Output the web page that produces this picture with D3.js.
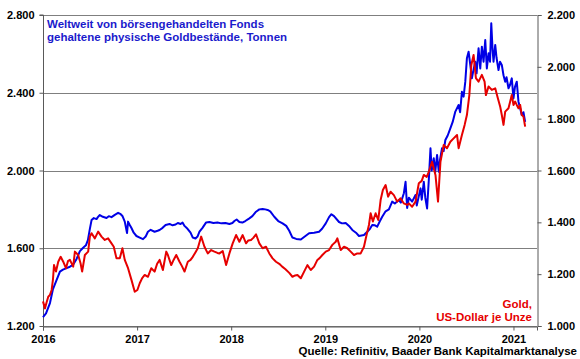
<!DOCTYPE html>
<html><head><meta charset="utf-8">
<script src="https://cdn.jsdelivr.net/npm/d3@7/dist/d3.min.js"></script>
<style>
html,body{margin:0;padding:0;background:#fff;}
svg{display:block;font-family:"Liberation Sans",Arial,sans-serif;font-weight:bold;}
</style></head><body>
<svg id="c" width="580" height="359"></svg>
<script>
// ---- data ----
const etfTime = [2016.000,2016.032,2016.074,2016.106,2016.145,2016.180,2016.212,2016.251,2016.286,2016.318,2016.357,2016.392,2016.424,2016.456,2016.477,2016.498,2016.516,2016.540,2016.569,2016.583,2016.604,2016.636,2016.675,2016.699,2016.728,2016.763,2016.798,2016.826,2016.844,2016.869,2016.893,2016.904,2016.922,2016.940,2016.964,2016.993,
2017.028,2017.063,2017.091,2017.115,2017.144,2017.186,2017.218,2017.239,2017.271,2017.303,2017.345,2017.377,2017.409,2017.433,2017.462,2017.483,2017.504,2017.536,2017.568,2017.592,2017.621,2017.642,2017.663,2017.695,2017.734,2017.769,2017.811,2017.854,2017.896,2017.939,2017.981,
2018.013,2018.034,2018.058,2018.087,2018.119,2018.150,2018.193,2018.225,2018.264,2018.299,2018.334,2018.362,2018.387,2018.415,2018.458,2018.500,2018.546,2018.585,2018.617,2018.651,2018.691,2018.740,2018.775,2018.828,2018.881,2018.934,2018.966,
2019.005,2019.040,2019.065,2019.093,2019.146,2019.178,2019.217,2019.252,2019.287,2019.326,2019.358,2019.411,2019.446,2019.475,2019.499,2019.528,2019.552,2019.581,2019.605,2019.641,2019.676,2019.711,2019.739,2019.782,2019.803,2019.835,2019.853,2019.870,2019.888,2019.923,2019.959,2019.972,
2020.012,2020.025,2020.047,2020.063,2020.082,2020.100,2020.118,2020.131,2020.153,2020.168,2020.188,2020.206,2020.221,2020.240,2020.258,2020.276,2020.301,2020.329,2020.354,2020.382,2020.417,2020.433,2020.452,2020.470,2020.488,2020.505,2020.523,2020.541,2020.558,2020.576,2020.594,2020.608,2020.629,2020.647,2020.664,2020.682,2020.700,2020.717,2020.735,2020.751,2020.764,2020.778,2020.788,2020.806,2020.820,2020.841,2020.857,2020.876,2020.894,2020.912,2020.926,2020.947,2020.963,2020.982,
2021.000,2021.016,2021.035,2021.053,2021.071,2021.088,2021.106,2021.124];
const etfTonnes = [1245,1265,1318,1390,1437,1480,1490,1498,1505,1514,1545,1585,1601,1615,1642,1700,1745,1755,1750,1760,1771,1762,1756,1765,1760,1772,1782,1775,1766,1737,1678,1737,1720,1704,1680,1663,
1655,1647,1660,1685,1695,1685,1690,1694,1705,1720,1725,1718,1722,1730,1725,1732,1715,1700,1680,1655,1650,1660,1685,1705,1733,1735,1730,1732,1728,1730,1725,
1730,1740,1748,1735,1732,1740,1754,1765,1788,1800,1802,1800,1797,1790,1762,1740,1728,1715,1690,1655,1648,1645,1658,1677,1680,1685,1700,
1728,1760,1775,1765,1735,1728,1730,1715,1694,1680,1663,1668,1685,1700,1720,1718,1711,1740,1762,1790,1800,1840,1830,1848,1835,1883,1942,1807,1860,1840,1874,1820,
1908,1850,1942,1860,1805,1950,2114,2000,2063,1990,2080,1994,2060,2114,2100,2157,2180,2217,2250,2303,2337,2300,2405,2380,2457,2577,2611,2543,2474,2520,2560,2500,2629,2525,2637,2560,2671,2525,2603,2560,2757,2620,2560,2646,2580,2517,2560,2543,2490,2457,2480,2423,2440,2474,
2371,2430,2457,2354,2320,2286,2300,2250];

const goldTime = [2016.000,2016.021,2016.037,2016.056,2016.074,2016.092,2016.106,2016.117,2016.138,2016.162,2016.188,2016.215,2016.244,2016.265,2016.286,2016.321,2016.339,2016.374,2016.399,2016.416,2016.445,2016.480,2016.498,2016.516,2016.551,2016.586,2016.622,2016.657,2016.692,2016.728,2016.752,2016.781,2016.816,2016.844,2016.869,2016.904,2016.940,2016.975,
2017.003,2017.028,2017.054,2017.081,2017.115,2017.151,2017.186,2017.213,2017.239,2017.274,2017.310,2017.327,2017.363,2017.388,2017.416,2017.451,2017.478,2017.504,2017.539,2017.568,2017.592,2017.621,2017.645,2017.681,2017.716,2017.751,2017.787,2017.822,2017.854,2017.875,2017.910,2017.946,2017.981,
2018.016,2018.052,2018.087,2018.122,2018.158,2018.182,2018.211,2018.235,2018.264,2018.299,2018.334,2018.370,2018.405,2018.440,2018.476,2018.511,2018.542,2018.574,2018.617,2018.651,2018.680,2018.704,2018.740,2018.775,2018.810,2018.846,2018.881,2018.916,2018.940,2018.969,
2019.005,2019.040,2019.075,2019.111,2019.128,2019.164,2019.199,2019.234,2019.270,2019.305,2019.340,2019.376,2019.411,2019.435,2019.464,2019.482,2019.506,2019.535,2019.563,2019.588,2019.612,2019.641,2019.668,2019.694,2019.729,2019.764,2019.800,2019.835,2019.870,2019.888,2019.923,2019.959,2019.994,
2020.025,2020.047,2020.078,2020.100,2020.135,2020.171,2020.198,2020.224,2020.258,2020.293,2020.329,2020.364,2020.400,2020.417,2020.452,2020.481,2020.505,2020.531,2020.552,2020.576,2020.601,2020.629,2020.664,2020.693,2020.707,2020.735,2020.770,2020.806,2020.834,2020.859,2020.876,2020.894,2020.912,2020.947,2020.965,2020.982,
2021.000,2021.018,2021.035,2021.053,2021.071,2021.088,2021.106,2021.124];
const goldPrice = [1095,1068,1090,1113,1120,1139,1180,1235,1210,1248,1267,1248,1223,1250,1255,1229,1287,1274,1242,1210,1274,1287,1345,1358,1338,1364,1345,1332,1338,1319,1306,1261,1261,1300,1255,1223,1178,1132,
1139,1165,1185,1197,1190,1223,1210,1240,1255,1216,1287,1274,1235,1255,1274,1248,1230,1210,1248,1255,1267,1285,1300,1345,1306,1280,1293,1287,1282,1280,1289,1235,1280,
1319,1351,1325,1351,1319,1330,1332,1340,1354,1319,1300,1306,1280,1261,1248,1240,1229,1220,1205,1190,1195,1197,1184,1210,1235,1216,1229,1255,1262,1274,
1287,1293,1313,1325,1338,1293,1306,1300,1287,1274,1280,1280,1306,1345,1390,1435,1403,1435,1409,1486,1525,1544,1499,1518,1505,1480,1493,1473,1467,1473,1460,1480,1551,
1560,1583,1575,1595,1634,1583,1480,1634,1698,1686,1711,1724,1737,1686,1737,1776,1814,1891,2007,2046,1956,1943,1969,1943,1891,1924,1911,1917,1879,1846,1814,1776,1827,1840,1866,1891,
1853,1866,1853,1840,1853,1814,1808,1769];

const leftTicks = [1200,1600,2000,2400,2800];
const rightTicks = [1000,1200,1400,1600,1800,2000,2200];
const yearTicks = [2016,2017,2018,2019,2020,2021];
const titleLines = ["Weltweit von börsengehandelten Fonds","gehaltene physische Goldbestände, Tonnen"];
const goldLabel = ["Gold,","US-Dollar je Unze"];
const sourceText = "Quelle: Refinitiv, Baader Bank Kapitalmarktanalyse";

// ---- layout ----
const W = 580, H = 359;
const m = {left:43, right:43, top:15, bottom:33};
const svg = d3.select("#c");
const x = d3.scaleLinear().domain([2016, 2021.25]).range([m.left, W - m.right]);
const yL = d3.scaleLinear().domain([1200, 2800]).range([H - m.bottom, m.top]);
const yR = d3.scaleLinear().domain([1000, 2200]).range([H - m.bottom, m.top]);
const fmt = v => d3.format(",.0f")(v).replace(/,/g, ".") ;
const fmt3 = v => (v/1000).toFixed(3);

// gridlines
svg.append("g").selectAll("line").data(leftTicks).join("line")
  .attr("x1", m.left).attr("x2", W - m.right)
  .attr("y1", d => Math.round(yL(d)) + 0.5).attr("y2", d => Math.round(yL(d)) + 0.5)
  .attr("stroke", "#7f7f7f").attr("stroke-width", 1);

// axes
const axL = d3.axisLeft(yL).tickValues(leftTicks).tickFormat(fmt3).tickSize(4).tickPadding(5);
const axR = d3.axisRight(yR).tickValues(rightTicks).tickFormat(fmt3).tickSize(4).tickPadding(6);
const axB = d3.axisBottom(x).tickValues(yearTicks).tickFormat(d3.format("d")).tickSize(4).tickPadding(5);

function styleAxis(g){
  g.select(".domain").attr("stroke", "#595959");
  g.selectAll(".tick line").attr("stroke", "#595959");
  g.selectAll("text").attr("fill", "#000").style("font-size", "11px").style("font-weight", "bold")
   .style("font-family", '"Liberation Sans", Arial, sans-serif');
}
svg.append("g").attr("transform", `translate(${m.left + 0.5},0)`).call(axL).call(styleAxis)
  .call(g => g.select(".domain").attr("d", `M-4,${yL(2800)}H0V${yL(1200)}`));
svg.append("g").attr("transform", `translate(${W - m.right + 0.5},0)`).call(axR).call(styleAxis);
svg.append("g").attr("transform", `translate(0,${H - m.bottom + 0.5})`).call(axB).call(styleAxis);

// lines
const lineL = d3.line().x((d,i) => x(etfTime[i])).y(d => yL(d));
const lineR = d3.line().x((d,i) => x(goldTime[i])).y(d => yR(d));
svg.append("path").datum(etfTonnes).attr("d", lineL)
  .attr("fill", "none").attr("stroke", "#0000e6").attr("stroke-width", 2).attr("stroke-linejoin", "round");
svg.append("path").datum(goldPrice).attr("d", lineR)
  .attr("fill", "none").attr("stroke", "#e60000").attr("stroke-width", 2).attr("stroke-linejoin", "round");

// texts
svg.append("g").selectAll("text").data(titleLines).join("text")
  .attr("x", 47).attr("y", (d,i) => 28 + i*13)
  .attr("fill", "#1a1acc").style("font-size", "11.5px").text(d => d);
svg.append("g").selectAll("text").data(goldLabel).join("text")
  .attr("x", 532).attr("y", (d,i) => 308 + i*13).attr("text-anchor", "end")
  .attr("fill", "#e60000").style("font-size", "11.5px").text(d => d);
svg.append("text").attr("x", 577).attr("y", 355).attr("text-anchor", "end")
  .attr("fill", "#000").style("font-size", "11.5px").text(sourceText);
</script>
</body></html>
